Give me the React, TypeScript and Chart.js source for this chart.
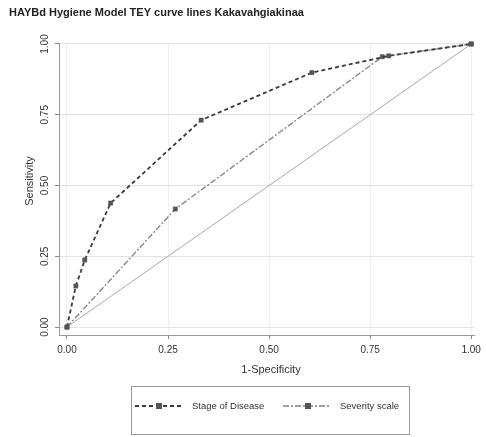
import React, { useEffect, useRef } from "react";
import { Chart, registerables } from "chart.js";

Chart.register(...registerables);

const titleText = "HAYBd Hygiene Model TEY curve lines Kakavahgiakinaa";
const xTitle = "1-Specificity";
const yTitle = "Sensitivity";
const tickValues = [0, 0.25, 0.5, 0.75, 1];
const tickLabels = ["0.00", "0.25", "0.50", "0.75", "1.00"];

const stageLabel = "Stage of Disease";
const stageFpr = [0, 0.022, 0.044, 0.108, 0.332, 0.606, 0.796, 1];
const stageTpr = [0, 0.145, 0.237, 0.438, 0.731, 0.899, 0.958, 1];

const severityLabel = "Severity scale";
const severityFpr = [0, 0.268, 0.78, 1];
const severityTpr = [0, 0.417, 0.955, 1];

const refFpr = [0, 1];
const refTpr = [0, 1];

const FONT = "'Liberation Sans', Arial, sans-serif";

const toPoints = (xs: number[], ys: number[]) => xs.map((x, i) => ({ x, y: ys[i] }));

const decorPlugin = {
  id: "decor",
  afterDraw(chart: any) {
    const ctx = chart.ctx as CanvasRenderingContext2D;
    const ys = chart.scales.y;
    ctx.save();
    // title
    ctx.fillStyle = "#222";
    ctx.font = `bold 11px ${FONT}`;
    ctx.textAlign = "left";
    ctx.textBaseline = "middle";
    ctx.fillText(titleText, 9, 13);

    // y tick labels (rotated)
    ctx.font = `10px ${FONT}`;
    ctx.fillStyle = "#333";
    tickValues.forEach((v, i) => {
      const py = ys.getPixelForValue(v);
      ctx.save();
      ctx.translate(45, py);
      ctx.rotate(-Math.PI / 2);
      ctx.textAlign = "center";
      ctx.textBaseline = "middle";
      ctx.fillText(tickLabels[i], 0, 0);
      ctx.restore();
    });

    // y title
    ctx.save();
    ctx.translate(30, 181);
    ctx.rotate(-Math.PI / 2);
    ctx.textAlign = "center";
    ctx.textBaseline = "middle";
    ctx.font = `11px ${FONT}`;
    ctx.fillText(yTitle, 0, 0);
    ctx.restore();

    // x title
    ctx.font = `11px ${FONT}`;
    ctx.textAlign = "center";
    ctx.textBaseline = "middle";
    ctx.fillText(xTitle, 271, 370);

    // legend box
    ctx.strokeStyle = "#9a9a9a";
    ctx.lineWidth = 1;
    ctx.strokeRect(131.5, 386.5, 278, 48);

    const items = [
      { ds: chart.data.datasets[0], x0: 135, x1: 182, mx: 159, tx: 192 },
      { ds: chart.data.datasets[1], x0: 283, x1: 330, mx: 308, tx: 340 },
    ];
    const ly = 406;
    items.forEach((it) => {
      ctx.save();
      ctx.strokeStyle = it.ds.borderColor;
      ctx.lineWidth = it.ds.borderWidth;
      ctx.setLineDash(it.ds.borderDash || []);
      ctx.beginPath();
      ctx.moveTo(it.x0, ly);
      ctx.lineTo(it.x1, ly);
      ctx.stroke();
      ctx.setLineDash([]);
      ctx.fillStyle = it.ds.pointBackgroundColor;
      ctx.fillRect(it.mx - 3, ly - 3, 6, 6);
      ctx.fillStyle = "#333";
      ctx.font = `9.5px ${FONT}`;
      ctx.textAlign = "left";
      ctx.textBaseline = "middle";
      ctx.fillText(it.ds.label, it.tx, ly);
      ctx.restore();
    });
    ctx.restore();
  },
};

export default function App() {
  const ref = useRef<HTMLCanvasElement | null>(null);
  useEffect(() => {
    if (!ref.current) return;
    const chart = new Chart(ref.current, {
      type: "scatter",
      data: {
        datasets: [
          {
            label: stageLabel,
            data: toPoints(stageFpr, stageTpr),
            showLine: true,
            borderColor: "#3a3a3a",
            borderWidth: 1.8,
            borderDash: [4, 3],
            pointStyle: "rect",
            pointRadius: 3,
            pointBackgroundColor: "#555",
            pointBorderColor: "#555",
            pointBorderWidth: 0.5,
            clip: false as any,
          },
          {
            label: severityLabel,
            data: toPoints(severityFpr, severityTpr),
            showLine: true,
            borderColor: "#808080",
            borderWidth: 1.3,
            borderDash: [6, 2, 2, 2],
            pointStyle: "rect",
            pointRadius: 3,
            pointBackgroundColor: "#555",
            pointBorderColor: "#555",
            pointBorderWidth: 0.5,
            clip: false as any,
          },
          {
            label: "Reference",
            data: toPoints(refFpr, refTpr),
            showLine: true,
            borderColor: "#a8a8a8",
            borderWidth: 1,
            pointRadius: 0,
            clip: false as any,
          },
        ],
      },
      options: {
        animation: false,
        responsive: false,
        maintainAspectRatio: false,
        layout: { padding: { top: 43, right: 10, left: 0, bottom: 0 } },
        plugins: {
          legend: { display: false },
          title: { display: false },
          tooltip: { enabled: false },
        },
        scales: {
          x: {
            type: "linear",
            min: -0.0197,
            max: 1.0074,
            afterBuildTicks: (s: any) => {
              s.ticks = tickValues.map((v) => ({ value: v }));
            },
            afterFit: (s: any) => {
              s.height = 102;
            },
            ticks: {
              padding: 5,
              font: { size: 10, family: FONT },
              color: "#333",
              callback: (_v: any, i: number) => tickLabels[i],
              maxRotation: 0,
              autoSkip: false,
            },
            grid: {
              color: "#f0f0f0",
              tickColor: "#888",
              tickLength: 4,
              drawTicks: true,
            },
            border: { display: true, color: "#999", width: 1 },
          },
          y: {
            type: "linear",
            min: -0.028,
            max: 1.0035,
            afterBuildTicks: (s: any) => {
              s.ticks = tickValues.map((v) => ({ value: v }));
            },
            afterFit: (s: any) => {
              s.width = 59;
            },
            ticks: { display: false },
            grid: {
              color: "#e4e4e4",
              tickColor: "#888",
              tickLength: 4,
              drawTicks: true,
            },
            border: { display: true, color: "#999", width: 1 },
          },
        },
      },
      plugins: [decorPlugin],
    });
    return () => chart.destroy();
  }, []);
  return (
    <div style={{ position: "absolute", left: 0, top: 0, width: 486, height: 437, background: "#fff" }}>
      <canvas ref={ref} width={486} height={437} style={{ width: 486, height: 437, display: "block" }} />
    </div>
  );
}
